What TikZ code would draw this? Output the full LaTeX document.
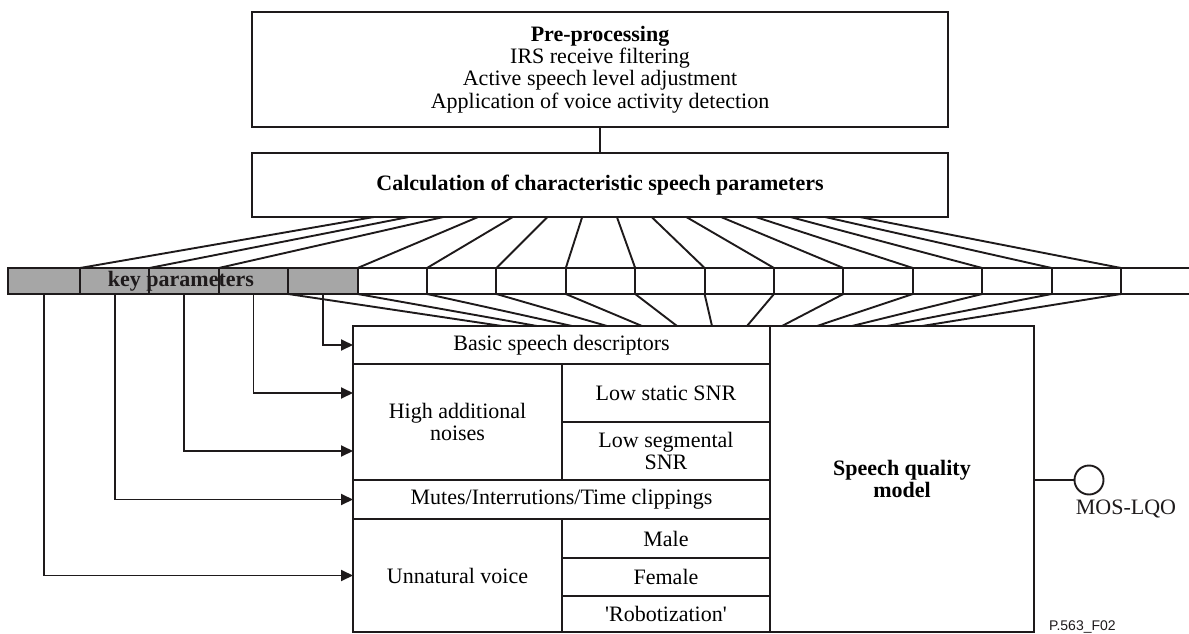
\documentclass[tikz,border=0pt]{standalone}
\usepackage{fontspec}
\setmainfont{Liberation Serif}
\setsansfont{Liberation Sans}
\usetikzlibrary{arrows.meta}
\definecolor{keygray}{RGB}{166,166,166}
\definecolor{ink}{RGB}{30,26,27}

% one rectangular cell given by its corners: name, x1, y1, x2, y2, text
\newcommand\mkcell[6]{%
  \node[box, minimum width={#4-#2}, minimum height={#5-#3}] (#1)
    at ({(#2+#4)/2},{(#3+#5)/2}) {#6};}

\begin{document}
\begin{tikzpicture}[x=1pt, y=-1pt,
  every node/.style={inner sep=0pt, outer sep=0pt},
  line/.style={line width=1.9pt, draw=ink},
  box/.style={draw=ink, line width=1.9pt, rectangle, align=center,
    font=\fontsize{22}{22.4}\selectfont},
  stripcell/.style={draw=ink, line width=1.9pt, rectangle, minimum height=26},
  lbl/.style={align=center, font=\fontsize{22}{22.4}\selectfont},
  arr/.style={line width=1.9pt, draw=ink,
    -{Triangle[length=12pt,width=11pt]}},
]
\useasboundingbox (0,0) rectangle (1189,634);
\clip (0,0) rectangle (1189,634);

% processing chain
\mkcell{pre}{252}{12}{948}{127}{\textbf{Pre-processing}\\IRS receive filtering\\Active speech level adjustment\\Application of voice activity detection}
\mkcell{calc}{252}{153}{948}{217}{\textbf{Calculation of characteristic speech parameters}}
\draw[line] (pre.south) -- (calc.north);

% boundaries of the parameter strip
\foreach \k in {0,...,17} {
  \pgfmathsetmacro\xb{\k==0 ? 8 : 80+69.4*(\k-1)}
  \coordinate (cT\k) at (\xb,268);
  \coordinate (cB\k) at (\xb,294);
}

% fan from the calculation block to the strip
\foreach \k [count=\j from 0] in {1,2,3,5,6,7,8,9,10,11,12,13,14,15,16} {
  \coordinate (ft\j) at ({374+34.7*\j},217);
  \draw[line] (ft\j) -- (cT\k);
}

% fan from the strip to the quality model block
\foreach \k [count=\j from 0] in {4,...,16} {
  \coordinate (fb\j) at ({502+35*\j},326);
  \draw[line] (cB\k) -- (fb\j);
}

% parameter strip cells
\foreach \k in {0,...,16} {
  \pgfmathsetmacro\xl{\k==0 ? 8 : 80+69.4*(\k-1)}
  \pgfmathsetmacro\xr{80+69.4*\k}
  \ifnum\k<5 \def\cf{keygray}\else\def\cf{white}\fi
  \node[stripcell, fill=\cf, minimum width={\xr-\xl}] (cell\k)
    at ({(\xl+\xr)/2},281) {};
}
\node[font=\bfseries\fontsize{22}{22}\selectfont, text=ink] (key) at (181,281) {key parameters};

% quality model block
\mkcell{basic}{353}{326}{770}{364}{Basic speech descriptors}
\mkcell{noise}{353}{364}{562}{480}{High additional\\noises}
\mkcell{lowstat}{562}{364}{770}{422}{Low static SNR}
\mkcell{lowseg}{562}{422}{770}{480}{Low segmental\\SNR}
\mkcell{mutes}{353}{480}{770}{519}{Mutes/Interrutions/Time clippings}
\mkcell{unnat}{353}{519}{562}{632}{Unnatural voice}
\mkcell{male}{562}{519}{770}{558}{Male}
\mkcell{female}{562}{558}{770}{596}{Female}
\mkcell{robot}{562}{596}{770}{632}{\textquotesingle Robotization\textquotesingle}
\mkcell{model}{770}{326}{1034}{632}{\textbf{Speech quality}\\\textbf{model}}

% key parameters feeding the descriptors
\draw[arr] (cell4.south) |- (basic.west);
\draw[arr] (cell3.south) |- (noise.west |- lowstat.center);
\draw[arr] (cell2.south) |- (noise.west |- lowseg.center);
\draw[arr] (cell1.south) |- (mutes.west);
\draw[arr] (cell0.south) |- (unnat.west);

% output
\node[draw=ink, circle, line width=1.9pt, minimum size=29] (mos) at (1089,480) {};
\draw[line] (model.east |- mos.west) -- (mos.west);
\node[lbl, text=ink] (moslbl) at (1126,509) {MOS-LQO};
\node[anchor=base west, text=ink, font=\sffamily\fontsize{14}{14}\selectfont] (figid) at (1049,630) {P.563\_F02};
\end{tikzpicture}
\end{document}
